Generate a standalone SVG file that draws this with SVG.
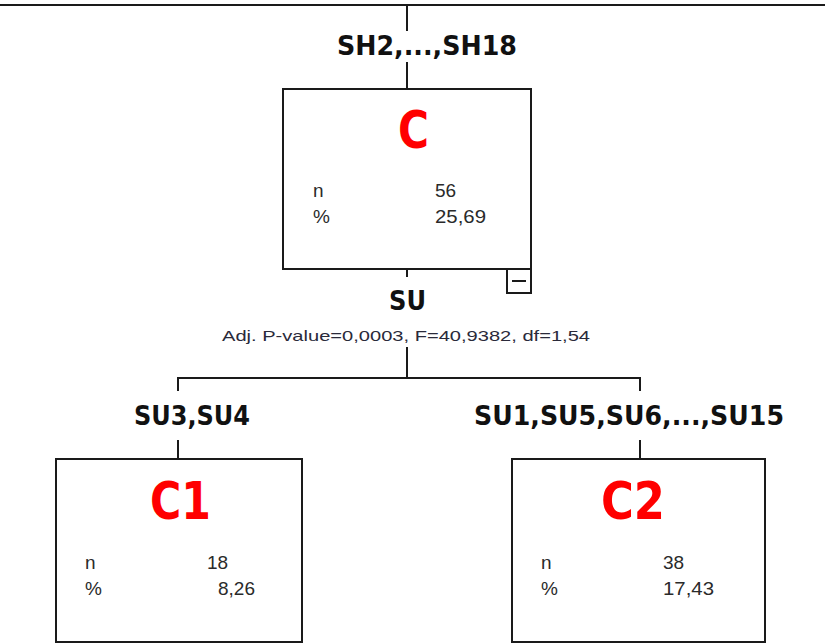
<svg xmlns="http://www.w3.org/2000/svg" width="825" height="644" viewBox="0 0 825 644">
  <style>
    .bg { fill: #ffffff; }
    .box { fill: #ffffff; stroke: #1a1a1a; stroke-width: 2; }
    .wire { fill: none; stroke: #1a1a1a; stroke-width: 2; }
    .split { font-family: "DejaVu Sans", Tahoma, sans-serif; font-weight: bold; font-size: 26px; fill: #111111; }
    .title { font-family: "DejaVu Sans", Tahoma, sans-serif; font-weight: bold; font-size: 52px; fill: #ff0000; }
    .stat { font-family: "Liberation Sans", Arial, sans-serif; font-size: 19px; fill: #2a2a2a; }
    .test { font-family: "Liberation Sans", Arial, sans-serif; font-size: 14.5px; fill: #2a2a3a; }
  </style>

  <rect class="bg" x="0" y="0" width="825" height="644"/>

  <!-- connectors -->
  <g id="connectors">
    <line class="wire" x1="0" y1="5" x2="825" y2="5"/>
    <line class="wire" x1="407" y1="6" x2="407" y2="31"/>
    <line class="wire" x1="407" y1="62" x2="407" y2="89"/>
    <line class="wire" x1="407" y1="269" x2="407" y2="277"/>
    <line class="wire" x1="407" y1="347" x2="407" y2="378"/>
    <polyline class="wire" points="178,391 178,378 640,378 640,391"/>
    <line class="wire" x1="178" y1="440" x2="178" y2="459"/>
    <line class="wire" x1="640" y1="440" x2="640" y2="459"/>
  </g>

  <!-- split labels -->
  <g id="labels">
    <text class="split" x="337" y="55" textLength="180" lengthAdjust="spacingAndGlyphs">SH2,...,SH18</text>
    <text class="split" x="389" y="310" textLength="37" lengthAdjust="spacingAndGlyphs">SU</text>
    <text class="test" x="222" y="341" textLength="368" lengthAdjust="spacingAndGlyphs">Adj. P-value=0,0003, F=40,9382, df=1,54</text>
    <text class="split" x="134" y="425" textLength="116" lengthAdjust="spacingAndGlyphs">SU3,SU4</text>
    <text class="split" x="474" y="425" textLength="310" lengthAdjust="spacingAndGlyphs">SU1,SU5,SU6,...,SU15</text>
  </g>

  <!-- root node -->
  <g id="node-C">
    <rect class="box" x="283" y="89" width="248" height="180"/>
    <text class="title" x="398" y="148" textLength="31" lengthAdjust="spacingAndGlyphs">C</text>
    <text class="stat" x="313" y="197">n</text>
    <text class="stat" x="435" y="197">56</text>
    <text class="stat" x="313" y="223">%</text>
    <text class="stat" x="435" y="223" textLength="51" lengthAdjust="spacingAndGlyphs">25,69</text>
    <rect class="box" x="507" y="269" width="24" height="24" stroke-width="1.5"/>
    <line class="wire" x1="512" y1="281" x2="526" y2="281" stroke-width="1.5"/>
  </g>

  <!-- child nodes -->
  <g id="node-C1">
    <rect class="box" x="56" y="459" width="246" height="183"/>
    <text class="title" x="150" y="519" textLength="61" lengthAdjust="spacingAndGlyphs">C1</text>
    <text class="stat" x="85" y="569">n</text>
    <text class="stat" x="207" y="569">18</text>
    <text class="stat" x="85" y="595">%</text>
    <text class="stat" x="218" y="595" textLength="37" lengthAdjust="spacingAndGlyphs">8,26</text>
  </g>

  <g id="node-C2">
    <rect class="box" x="512" y="459" width="253" height="183"/>
    <text class="title" x="601" y="519" textLength="64" lengthAdjust="spacingAndGlyphs">C2</text>
    <text class="stat" x="541" y="569">n</text>
    <text class="stat" x="663" y="569">38</text>
    <text class="stat" x="541" y="595">%</text>
    <text class="stat" x="663" y="595" textLength="51" lengthAdjust="spacingAndGlyphs">17,43</text>
  </g>
</svg>
